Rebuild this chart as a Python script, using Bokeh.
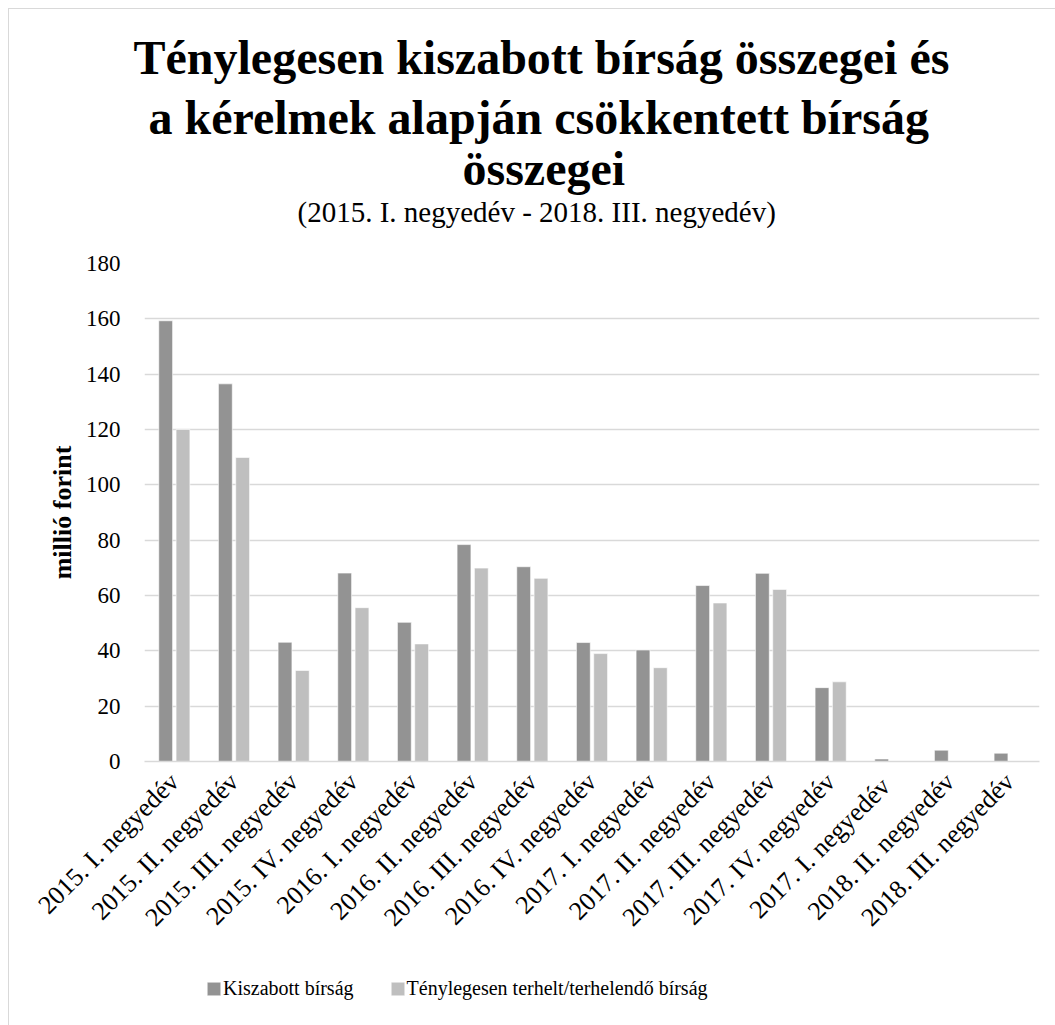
from bokeh.plotting import figure
from bokeh.models import (ColumnDataSource, FactorRange, FixedTicker, Legend, LegendItem,
                          Title, Range1d)
from bokeh.layouts import column
from bokeh.transform import dodge
from bokeh.embed import file_html
from bokeh.resources import INLINE
import math

categories = ["2015. I. negyedév", "2015. II. negyedév", "2015. III. negyedév",
              "2015. IV. negyedév", "2016. I. negyedév", "2016. II. negyedév",
              "2016. III. negyedév", "2016. IV. negyedév", "2017. I. negyedév",
              "2017. II. negyedév", "2017. III. negyedév", "2017. IV. negyedév",
              "2017. I. negyedév ", "2018. II. negyedév", "2018. III. negyedév"]
kiszabott = [159.3, 136.5, 43.1, 68.1, 50.3, 78.4, 70.4, 43.0, 40.3, 63.6, 68.0, 26.7, 0.9, 4.1, 3.0]
tenyleges = [120.0, 109.9, 32.9, 55.6, 42.5, 69.9, 66.2, 39.0, 33.9, 57.3, 62.2, 28.8, 0.0, 0.0, 0.0]
y_ticks = [0, 20, 40, 60, 80, 100, 120, 140, 160, 180]

title_lines = ["Ténylegesen kiszabott bírság összegei és",
               "a kérelmek alapján csökkentett bírság",
               "összegei"]
subtitle = "(2015. I. negyedév - 2018. III. negyedév)"
y_label = "millió forint"
series_names = ["Kiszabott bírság", "Ténylegesen terhelt/terhelendő bírság"]

FONT = "Liberation Serif"
DARK = "#939393"
LIGHT = "#bfbfbf"
GRID = "#d9d9d9"
BORDER = "1px solid #d9d9d9"

src = ColumnDataSource(dict(cat=categories, k=kiszabott, t=tenyleges))

p = figure(width=1047, height=950, x_range=FactorRange(*categories),
           y_range=Range1d(0, 180), output_backend="svg", toolbar_location=None,
           min_border_left=135, min_border_right=17, min_border_top=254, min_border_bottom=198)

r1 = p.vbar(x=dodge("cat", -0.145, range=p.x_range), top="k", width=0.232, source=src,
            fill_color=DARK, line_color="white", line_width=0.6)
r2 = p.vbar(x=dodge("cat", 0.145, range=p.x_range), top="t", width=0.232, source=src,
            fill_color=LIGHT, line_color="white", line_width=0.6)

p.outline_line_color = None
p.xgrid.grid_line_color = None
p.ygrid.grid_line_color = GRID
p.ygrid.grid_line_width = 1.6
p.yaxis.ticker = FixedTicker(ticks=y_ticks)
p.yaxis.axis_line_color = None
p.yaxis.major_tick_line_color = None
p.yaxis.minor_tick_line_color = None
p.yaxis.major_label_text_font = FONT
p.yaxis.major_label_text_font_size = "23px"
p.yaxis.major_label_text_color = "black"
p.yaxis.major_label_standoff = 18
p.yaxis.axis_label = y_label
p.yaxis.axis_label_text_font = FONT
p.yaxis.axis_label_text_font_size = "26px"
p.yaxis.axis_label_text_font_style = "bold"
p.yaxis.axis_label_text_color = "black"
p.yaxis.axis_label_standoff = 6

p.xaxis.axis_line_color = GRID
p.xaxis.axis_line_width = 1.6
p.xaxis.major_tick_line_color = None
p.xaxis.minor_tick_line_color = None
p.xaxis.major_label_orientation = math.pi / 4
p.xaxis.major_label_text_font = FONT
p.xaxis.major_label_text_font_size = "26px"
p.xaxis.major_label_text_color = "black"
p.xaxis.major_label_standoff = 10

# white (invisible) spacer between plot area and subtitle
p.add_layout(Title(text=".", align="left", text_font=FONT, text_font_size="29px",
                   text_color="white", standoff=15, offset=0), "above")
p.add_layout(Title(text=subtitle, align="left", text_font=FONT, text_font_size="29px",
                   text_font_style="normal", text_color="black", standoff=0, offset=153), "above")
standoffs = [16, -6, -2]
offsets = [-11, 4, 318]
for line, so, off in zip(reversed(title_lines), reversed(standoffs), reversed(offsets)):
    p.add_layout(Title(text=line, align="left", text_font=FONT, text_font_size="48px",
                       text_font_style="bold", text_color="black", standoff=so, offset=off),
                 "above")

# legend strip below the chart
pl = figure(width=911, height=66, x_range=Range1d(0, 1), y_range=Range1d(0, 1),
            output_backend="svg", toolbar_location=None, x_axis_type=None, y_axis_type=None,
            min_border_left=0, min_border_right=0, min_border_top=0, min_border_bottom=0)
pl.outline_line_color = None
pl.grid.grid_line_color = None
lr1 = pl.vbar(x=[0.5], bottom=[0.5], top=[0.5], width=0, fill_color=DARK,
              line_color="white", line_width=0.6)
lr2 = pl.vbar(x=[0.5], bottom=[0.5], top=[0.5], width=0, fill_color=LIGHT,
              line_color="white", line_width=0.6)
legend = Legend(items=[LegendItem(label=series_names[0], renderers=[lr1]),
                       LegendItem(label=series_names[1], renderers=[lr2])],
                orientation="horizontal", location=(61, 25))
legend.label_text_font = FONT
legend.label_text_font_size = "20px"
legend.label_text_color = "black"
legend.glyph_width = 17
legend.glyph_height = 17
legend.label_standoff = 1
legend.spacing = 35
legend.border_line_color = None
legend.background_fill_alpha = 0
legend.margin = 0
legend.padding = 0
pl.add_layout(legend)

layout = column(p, pl, spacing=0)
layout.styles = {"margin-left": "8px", "margin-top": "8px",
                 "border-left": BORDER, "border-top": BORDER}

open("out.html", "w").write(file_html(layout, INLINE))
